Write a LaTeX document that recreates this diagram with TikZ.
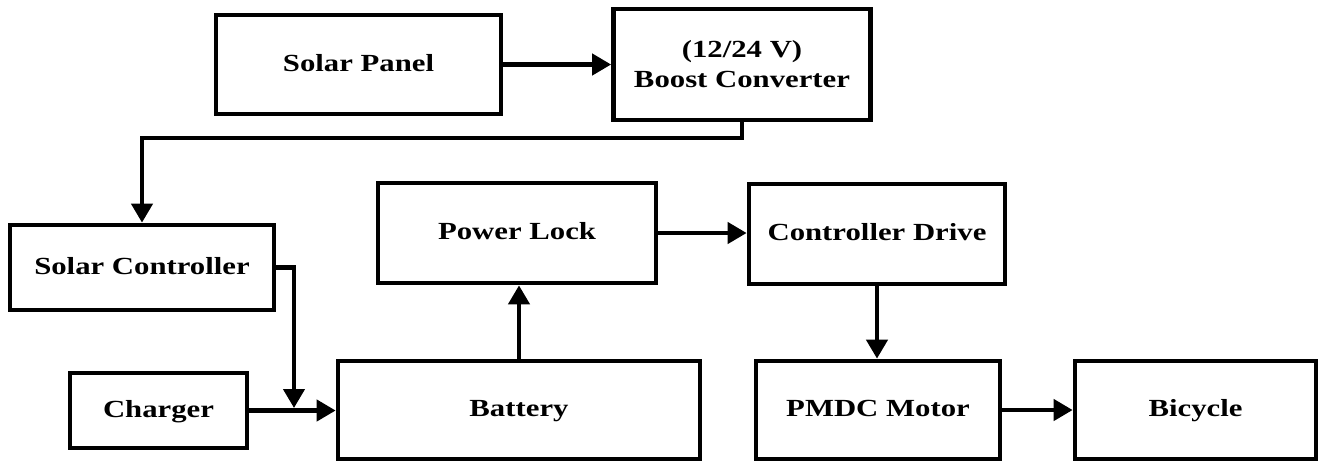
\documentclass[tikz,border=0pt]{standalone}
\usepackage{fontspec}
\setmainfont{Liberation Serif}[FakeStretch=1.25]
\usetikzlibrary{arrows.meta,calc}
\tikzset{
  blk/.style={draw,line width=0.095cm,align=center,font=\fontsize{14}{17}\selectfont\bfseries,inner sep=2pt},
  onerow/.style={blk,text height=2ex,text depth=.3ex},
  arr/.style={line width=0.085cm,-{Triangle[length=0.38cm,width=0.42cm]}}
}
\begin{document}
\begin{tikzpicture}[x=0.02cm,y=-0.02cm]
\useasboundingbox (0,0) rectangle (1319,461);
\node[onerow,minimum width=5.7cm,minimum height=1.98cm](solar) at(358.5,64.5){Solar Panel};
\node[blk,minimum width=5.14cm,minimum height=2.22cm](boost) at(742,64.5){(12/24 V)\\Boost Converter};
\node[onerow,minimum width=5.28cm,minimum height=1.7cm](sctrl) at(142,267.5){Solar Controller};
\node[onerow,minimum width=3.54cm,minimum height=1.5cm](charger) at(158.5,410.5){Charger};
\node[onerow,minimum width=7.24cm,minimum height=1.96cm](battery) at(519,410){Battery};
\node[onerow,minimum width=5.56cm,minimum height=2cm](lock) at(517,233){Power Lock};
\node[onerow,minimum width=5.12cm,minimum height=2cm](drive) at(877,234){Controller Drive};
\node[onerow,minimum width=4.88cm,minimum height=1.96cm](motor) at(878,410){PMDC Motor};
\node[onerow,minimum width=4.82cm,minimum height=1.96cm](bike) at(1195.5,410){Bicycle};
\coordinate(k1) at(742,138);
\coordinate(j1) at(294,408);
\draw[arr](solar)--(boost);
\draw[arr](boost.south)--(k1)-|(sctrl.north);
\draw[arr](sctrl.east)-|(j1);
\draw[arr](charger.east)--(charger.east-|battery.west);
\draw[arr](battery.north)--(battery.north|-lock.south);
\draw[arr](lock.east)--(lock.east-|drive.west);
\draw[arr](drive.south)--(drive.south|-motor.north);
\draw[arr](motor)--(bike);
\end{tikzpicture}
\end{document}
